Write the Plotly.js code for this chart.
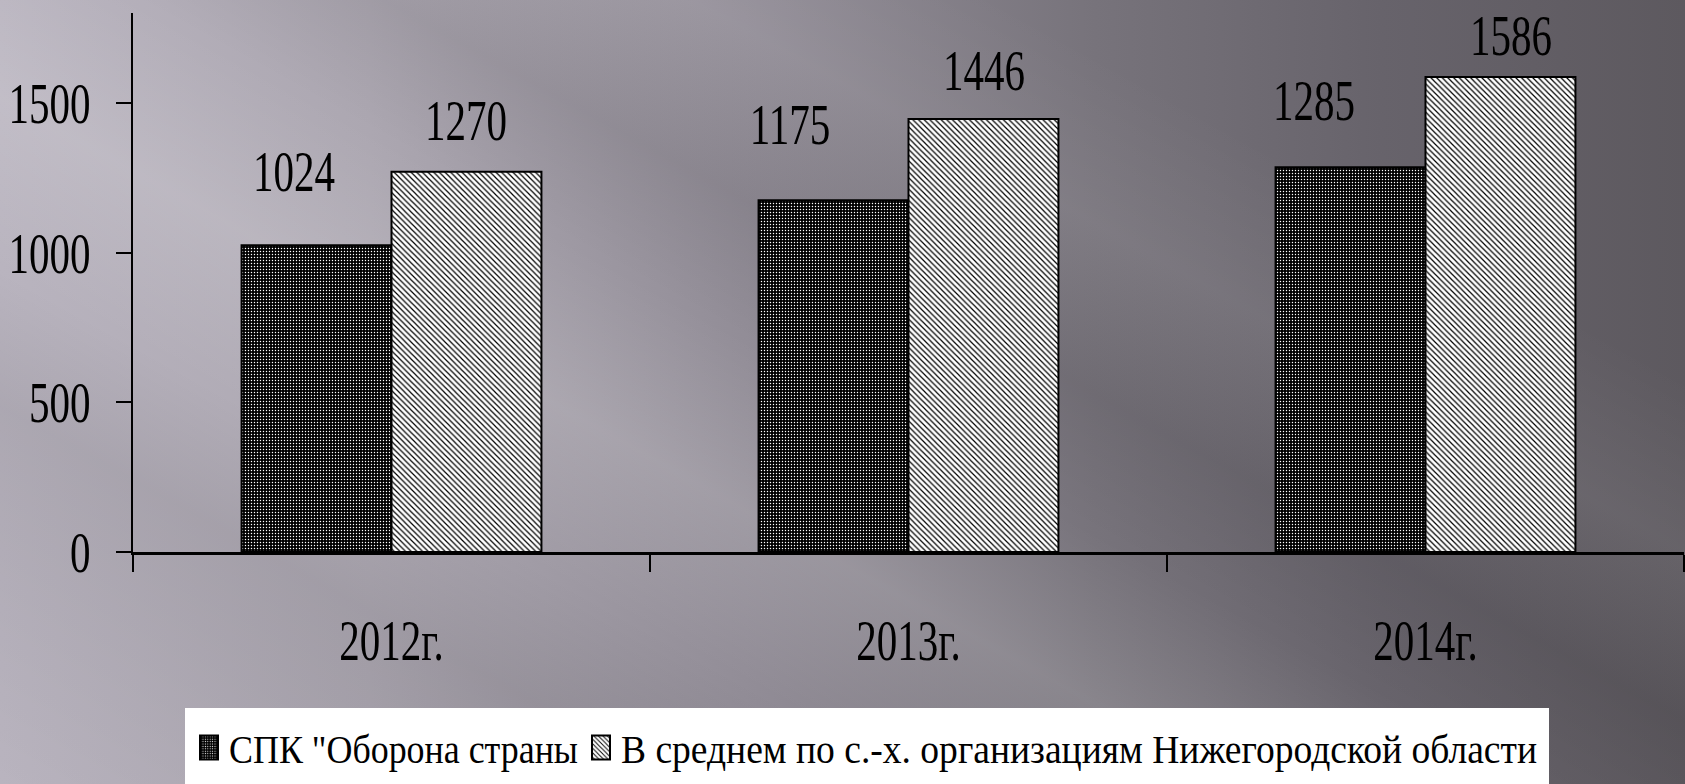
<!DOCTYPE html>
<html>
<head>
<meta charset="utf-8">
<script src="https://cdn.plot.ly/plotly-3.0.1.min.js"></script>
<style>
  html, body { margin: 0; padding: 0; }
  body {
    width: 1685px; height: 784px; overflow: hidden;
    background:
      linear-gradient(29deg,
        rgba(0,0,0,0.00) 0%,
        rgba(0,0,0,0.07) 22%,
        rgba(255,255,255,0.00) 30%,
        rgba(255,255,255,0.13) 40%,
        rgba(255,255,255,0.00) 50%,
        rgba(0,0,0,0.07) 58%,
        rgba(255,255,255,0.06) 68%,
        rgba(255,255,255,0.00) 78%,
        rgba(0,0,0,0.00) 100%),
      linear-gradient(90deg, #b9b4bf 0%, #aca7b1 22%, #918c96 45%, #77737b 65%, #67636b 82%, #5d595f 100%);
  }
  #chart { width: 1685px; height: 784px; }
</style>
</head>
<body>
<div id="chart"></div>
<script>
// ---- data ----
const categories = ["2012г.", "2013г.", "2014г."];
const seriesNames = ["СПК \"Оборона страны", "В среднем по с.-х. организациям Нижегородской области"];
const spkValues = [1024, 1175, 1285];
const regionValues = [1270, 1446, 1586];
const yTickVals = [0, 500, 1000, 1500];

// ---- style ----
const FONT = "'Liberation Serif', 'DejaVu Serif', 'Times New Roman', serif";
const BIG = 57;
// manual label offsets (pixels) as placed in the original chart: [dx, dy]
const labelOffsets = [
  [[-23, 74], [-44, 76], [-37, 67]],
  [[0, 51], [1, 49], [11, 42]]
];
const bargap = 0.42;
const barW = (1 - bargap) / 2;

const traces = [
  {
    type: "bar", name: seriesNames[0], x: categories, y: spkValues,
    marker: {
      color: "#000000",
      line: { color: "#000000", width: 2 },
      pattern: { shape: ".", bgcolor: "#000000", fgcolor: "#ffffff", size: 3, solidity: 0.18 }
    },
    hoverinfo: "x+y"
  },
  {
    type: "bar", name: seriesNames[1], x: categories, y: regionValues,
    marker: {
      color: "#ffffff",
      line: { color: "#000000", width: 2 },
      pattern: { shape: "\\", bgcolor: "#ffffff", fgcolor: "#000000", size: 4, solidity: 0.3 }
    },
    hoverinfo: "x+y"
  }
];

const annotations = [];
[spkValues, regionValues].forEach((vals, s) => {
  vals.forEach((v, j) => {
    annotations.push({
      x: j + (s === 0 ? -barW / 2 : barW / 2), y: v, xref: "x", yref: "y",
      text: String(v), showarrow: false,
      xanchor: "center", yanchor: "middle",
      xshift: labelOffsets[s][j][0], yshift: labelOffsets[s][j][1],
      font: { family: FONT, size: BIG, color: "#000000" }
    });
  });
});

const layout = {
  width: 1685, height: 784,
  font: { family: FONT, color: "#000000" },
  paper_bgcolor: "rgba(0,0,0,0)", plot_bgcolor: "rgba(0,0,0,0)",
  margin: { l: 133, r: 1, t: 13, b: 232, pad: 0 },
  barmode: "group", bargap: bargap, bargroupgap: 0,
  showlegend: true,
  legend: {
    orientation: "h", x: 0.473, xanchor: "center", y: -0.289, yanchor: "top",
    bgcolor: "#ffffff", borderwidth: 0,
    font: { family: FONT, size: 39, color: "#000000" },
    itemwidth: 30, tracegroupgap: 0
  },
  xaxis: {
    type: "category", showline: true, linecolor: "#000000", linewidth: 3,
    ticks: "outside", tickson: "boundaries", ticklen: 17, tickwidth: 2, tickcolor: "#000000",
    showgrid: false, zeroline: false,
    tickfont: { family: FONT, size: BIG, color: "#000000" },
    ticklabelstandoff: 37
  },
  yaxis: {
    range: [0, 1800], tickvals: yTickVals, ticktext: yTickVals.map(String),
    showline: true, linecolor: "#000000", linewidth: 2,
    ticks: "outside", ticklen: 15, tickwidth: 2, tickcolor: "#000000",
    showgrid: false, zeroline: false,
    tickfont: { family: FONT, size: BIG, color: "#000000" },
    ticklabelstandoff: 14
  },
  annotations: annotations
};

// Narrow the serif glyphs horizontally, as the condensed text of the original.
function condense(gd, factor) {
  gd.querySelectorAll(".xtick text, .ytick text, .annotation-text").forEach(t => {
    const L = t.getComputedTextLength();
    if (L > 0) {
      t.setAttribute("textLength", (L * factor).toFixed(1));
      t.setAttribute("lengthAdjust", "spacingAndGlyphs");
    }
  });
}

function parseT(el) {
  const m = (el.getAttribute("transform") || "").match(/translate\(\s*([-\d.e]+)[ ,]+([-\d.e]+)\s*\)/);
  return m ? [parseFloat(m[1]), parseFloat(m[2])] : [0, 0];
}

// Legend laid out as in the original: condensed texts at given screen spans, larger swatches, wide white box
function fixLegend(gd, spans, box, dy) {
  const leg = gd.querySelector("g.legend");
  if (!leg) return;
  leg.querySelectorAll("[clip-path]").forEach(e => e.removeAttribute("clip-path"));
  const root = gd.getBoundingClientRect();
  const items = Array.from(leg.querySelectorAll("g.traces"));
  items.forEach((it, i) => {
    const t = it.querySelector("text.legendtext");
    if (!t || !spans[i]) return;
    t.setAttribute("textLength", (spans[i][1] - spans[i][0]).toFixed(1));
    t.setAttribute("lengthAdjust", "spacingAndGlyphs");
    const p = it.querySelector(".legendpoints path");
    if (p) p.setAttribute("d", "M9,12H-9V-12H9Z");
    const left = t.getBoundingClientRect().left - root.left;
    const [tx, ty] = parseT(it);
    it.setAttribute("transform", `translate(${tx + spans[i][0] - left},${ty + dy})`);
  });
  const [lx, ly] = parseT(leg);
  const bg = leg.querySelector("rect.bg");
  bg.setAttribute("x", (box.left - lx).toFixed(1));
  bg.setAttribute("width", box.right - box.left);
  bg.setAttribute("y", (box.top - ly).toFixed(1));
  bg.setAttribute("height", box.bottom - box.top);
}

Plotly.newPlot("chart", traces, layout, { displayModeBar: false, staticPlot: true })
  .then(gd => {
    condense(gd, 0.72);
    fixLegend(gd, [[229, 578], [621, 1537]], { left: 185, right: 1549, top: 708, bottom: 790 }, 8);
  });
</script>
</body>
</html>
